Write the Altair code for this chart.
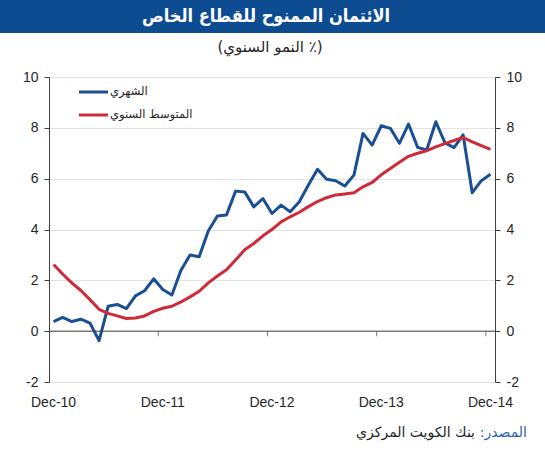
import altair as alt
import pandas as pd

# Monthly observations, Dec-2010 .. Dec-2014
months = list(pd.date_range("2010-12-01", periods=49, freq="MS").strftime("%b-%y"))

# Private-sector credit growth, % y/y
monthly = [0.38, 0.54, 0.38, 0.47, 0.32, -0.37, 0.98, 1.05, 0.89, 1.39, 1.59, 2.06,
           1.64, 1.42, 2.40, 3.00, 2.93, 3.94, 4.53, 4.57, 5.51, 5.48, 4.89, 5.22,
           4.63, 4.96, 4.70, 5.09, 5.75, 6.37, 5.98, 5.92, 5.71, 6.14, 7.78, 7.32,
           8.08, 7.98, 7.39, 8.15, 7.23, 7.13, 8.24, 7.41, 7.22, 7.72, 5.45, 5.92, 6.17]
annual_avg = [2.62, 2.25, 1.90, 1.60, 1.24, 0.86, 0.70, 0.60, 0.50, 0.52, 0.60, 0.78,
              0.90, 0.98, 1.15, 1.35, 1.57, 1.90, 2.17, 2.42, 2.80, 3.20, 3.45, 3.75,
              4.00, 4.30, 4.50, 4.68, 4.90, 5.10, 5.25, 5.36, 5.40, 5.45, 5.68, 5.85,
              6.15, 6.40, 6.65, 6.88, 7.00, 7.10, 7.25, 7.38, 7.50, 7.62, 7.45, 7.30, 7.15]

series_names = ["الشهري", "المتوسط السنوي"]
series_colors = ["#1B4F93", "#D02A3A"]
y_ticks = [-2, 0, 2, 4, 6, 8, 10]

title_text = "الائتمان الممنوح للقطاع الخاص"
subtitle_text = "(النمو السنوي ٪)"
source_label = "المصدر:\u200f"
source_text = "بنك الكويت المركزي"

# Layout (pixels)
W, H = 446, 305
PAD_L, PAD_T, PAD_R, PAD_B = 49, 77, 50, 68
AXIS_COLOR = "#404040"
TEXT_COLOR = "#262626"
BAR_COLOR = "#0E4C92"
NUM_FONT = "Liberation Sans"
AR_FONT = "DejaVu Sans"
AR_FONT_NARROW = "DejaVu Sans Condensed, DejaVu Sans"

idx = list(range(len(months)))
df = pd.DataFrame({"idx": idx, "month": months,
                   series_names[0]: monthly, series_names[1]: annual_avg})
long = df.melt(id_vars=["idx", "month"], var_name="series", value_name="value")

dec_idx = [i for i, m in enumerate(months) if m.startswith("Dec")]
year_labels = pd.DataFrame({"idx": dec_idx, "label": [months[i] for i in dec_idx]})
year_breaks = [i + 0.5 for i, m in enumerate(months) if m.startswith("Nov")]

x_scale = alt.Scale(domain=[-0.5, len(months) - 0.5], nice=False, zero=False)
y_scale = alt.Scale(domain=[y_ticks[0], y_ticks[-1]], nice=False, zero=False)

y_axis_common = dict(values=y_ticks, title=None, domainColor=AXIS_COLOR, tickColor=AXIS_COLOR,
                     tickSize=5, labelFont=NUM_FONT, labelFontSize=14, labelColor=TEXT_COLOR,
                     labelPadding=6, labelExpr="'' + datum.value")

lines = alt.Chart(long).mark_line(strokeWidth=3, strokeJoin="round").encode(
    x=alt.X("idx:Q", scale=x_scale, axis=None),
    y=alt.Y("value:Q", scale=y_scale,
            axis=alt.Axis(orient="left", grid=True, gridColor="#E3E3E3", **y_axis_common)),
    color=alt.Color("series:N", scale=alt.Scale(domain=series_names, range=series_colors),
                    legend=None),
    order=alt.Order("idx:Q"),
)

right_axis = alt.Chart(long).mark_line(opacity=0).encode(
    x=alt.X("idx:Q", scale=x_scale, axis=None),
    y=alt.Y("value:Q", scale=y_scale,
            axis=alt.Axis(orient="right", grid=False, **y_axis_common)),
)

one = alt.Data(values=[{}])

# horizontal axis drawn through zero, with year ticks between Nov and Dec
zero_line = alt.Chart(one).mark_rule(color=AXIS_COLOR, strokeWidth=1).encode(
    x=alt.value(0), x2=alt.value(W), y=alt.YDatum(0, scale=y_scale, axis=None))

year_ticks = alt.Chart(pd.DataFrame({"b": year_breaks})).mark_tick(
    orient="vertical", size=5, thickness=1, color=AXIS_COLOR, yOffset=2.5).encode(
    x=alt.X("b:Q", scale=x_scale, axis=None), y=alt.YDatum(0, scale=y_scale, axis=None))

# year labels under the plot, centred on each December
x_labels = alt.Chart(year_labels).mark_text(
    align="center", baseline="middle", font=NUM_FONT, fontSize=14, color=TEXT_COLOR).encode(
    x=alt.X("idx:Q", scale=x_scale, axis=None), y=alt.value(H + 21), text="label:N")

# legend in the upper-left corner of the plot
legend_layers = []
for k, (name, col) in enumerate(zip(series_names, series_colors)):
    ly = 15 + 23 * k
    legend_layers.append(alt.Chart(one).mark_rule(color=col, strokeWidth=3).encode(
        x=alt.value(30), x2=alt.value(59), y=alt.value(ly)))
    legend_layers.append(alt.Chart(alt.Data(values=[{"t": name}])).mark_text(
        align="left", baseline="middle", font=AR_FONT, fontSize=11.5, color=TEXT_COLOR).encode(
        x=alt.value(61), y=alt.value(ly), text="t:N"))

# header band, subtitle and source line
title_bar = alt.Chart(one).mark_rect(color=BAR_COLOR).encode(
    x=alt.value(-PAD_L), x2=alt.value(W + PAD_R), y=alt.value(-PAD_T), y2=alt.value(-PAD_T + 33))
title = alt.Chart(alt.Data(values=[{"t": title_text}])).mark_text(
    align="center", baseline="middle", font=AR_FONT_NARROW, fontSize=18, fontWeight="bold",
    color="white").encode(x=alt.value(266 - PAD_L), y=alt.value(17 - PAD_T), text="t:N")
subtitle = alt.Chart(alt.Data(values=[{"t": subtitle_text}])).mark_text(
    align="center", baseline="middle", font=AR_FONT, fontSize=15, color=TEXT_COLOR).encode(
    x=alt.value(270 - PAD_L), y=alt.value(47 - PAD_T), text="t:N")
src_a = alt.Chart(alt.Data(values=[{"t": source_label}])).mark_text(
    align="right", baseline="middle", font=AR_FONT, fontSize=14, color="#2A63A8").encode(
    x=alt.value(527 - PAD_L), y=alt.value(433 - PAD_T), text="t:N")
src_b = alt.Chart(alt.Data(values=[{"t": source_text}])).mark_text(
    align="right", baseline="middle", font=AR_FONT, fontSize=14, color=TEXT_COLOR).encode(
    x=alt.value(475 - PAD_L), y=alt.value(433 - PAD_T), text="t:N")

chart = alt.layer(
    lines, right_axis, zero_line, year_ticks, x_labels, *legend_layers,
    title_bar, title, subtitle, src_a, src_b,
).resolve_axis(y="independent").properties(
    width=W, height=H,
    padding={"left": PAD_L, "top": PAD_T, "right": PAD_R, "bottom": PAD_B},
    autosize=alt.AutoSizeParams(type="none"),
    background="white",
).configure_view(strokeWidth=0)

chart.save("out.html", embed_options={"renderer": "svg", "actions": False})
